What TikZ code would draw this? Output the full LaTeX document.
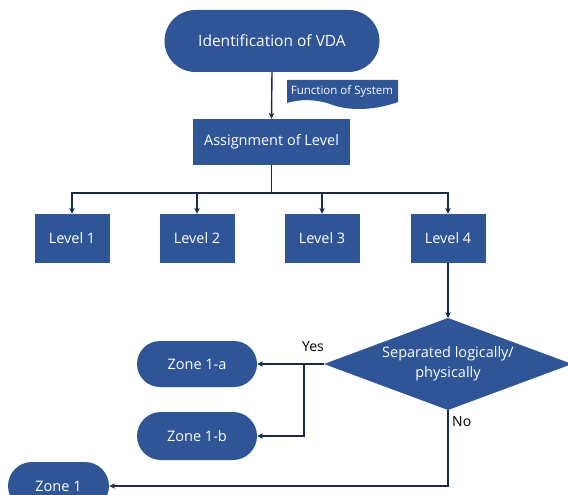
\documentclass[tikz,border=0pt]{standalone}
\usepackage{fontspec}
\setmainfont{Open Sans}
\usetikzlibrary{shapes.misc,arrows.meta}
\definecolor{boxblue}{HTML}{2F5597}
\definecolor{linenavy}{HTML}{1B2A4A}
\tikzset{
  pill/.style={rounded rectangle, fill=boxblue, text=white, font=\fontsize{14.5}{17}\selectfont, inner sep=0pt},
  sq/.style={rectangle, fill=boxblue, text=white, font=\fontsize{14.5}{17}\selectfont, inner sep=0pt},
  conn/.style={draw=linenavy, line width=1.4pt},
  arr/.style={conn, -{Stealth[length=6pt,width=5.5pt]}},
  lbl/.style={text=black, font=\fontsize{14}{16}\selectfont, inner sep=1pt}
}
\begin{document}
\begin{tikzpicture}[x=1pt,y=-1pt]
\useasboundingbox (0,0) rectangle (568,495);
\clip (0,0) rectangle (568,495);
\fill[white] (0,0) rectangle (568,495);
% nodes
\node[pill, minimum width=215pt, minimum height=62pt, font=\fontsize{15.5}{18}\selectfont] (vda) at (272,41) {Identification of VDA};
\node[sq, minimum width=157pt, minimum height=46pt] (assign) at (271.5,142) {Assignment of Level};
\fill[boxblue] (287,80) -- (398,80) -- (398,102) .. controls (370,112) and (345,110) .. (330,104) .. controls (315,99) and (300,99) .. (287,103) -- cycle;
\node[text=white, font=\fontsize{11.5}{13}\selectfont, inner sep=0pt] (func) at (342,91) {Function of System};
\node[sq, minimum width=75pt, minimum height=49pt] (L1) at (72,238.5) {Level 1};
\node[sq, minimum width=75pt, minimum height=49pt] (L2) at (197,238.5) {Level 2};
\node[sq, minimum width=75pt, minimum height=49pt] (L3) at (322,238.5) {Level 3};
\node[sq, minimum width=75pt, minimum height=49pt] (L4) at (448,238.5) {Level 4};
% decision diamond
\coordinate (diaT) at (448,318);
\coordinate (diaB) at (448,410);
\coordinate (diaL) at (324,364);
\coordinate (diaR) at (572,364);
\fill[boxblue] (diaT) -- (diaR) -- (diaB) -- (diaL) -- cycle;
\node[text=white, align=center, font=\fontsize{14.5}{20}\selectfont, inner sep=0pt] (dia) at (448,364) {Separated logically/\\physically};
\node[pill, minimum width=120pt, minimum height=46pt] (z1a) at (197,364) {Zone 1-a};
\node[pill, minimum width=120pt, minimum height=48pt] (z1b) at (197,436) {Zone 1-b};
\node[pill, minimum width=101pt, minimum height=48pt] (z1) at (58.5,486) {Zone 1};
% connectors
\draw[arr] (vda.south) -- (assign.north);
\coordinate (bus) at (271.5,193);
\draw[conn] (assign.south) -- (bus);
\draw[arr] (bus) -| (L1.north);
\draw[arr] (bus) -| (L2.north);
\draw[arr] (bus) -| (L3.north);
\draw[arr] (bus) -| (L4.north);
\draw[arr] (L4.south) -- (diaT);
\draw[arr] (diaL) -- (z1a.east);
\coordinate (split) at (304,364);
\draw[arr] (split) |- (z1b.east);
\coordinate (nocorner) at (448,486);
\draw[arr] (diaB) -- (nocorner) -- (z1.east);
\node[lbl] (yes) at (313,347) {Yes};
\node[lbl, anchor=west] (no) at (451,422) {No};
\end{tikzpicture}
\end{document}
